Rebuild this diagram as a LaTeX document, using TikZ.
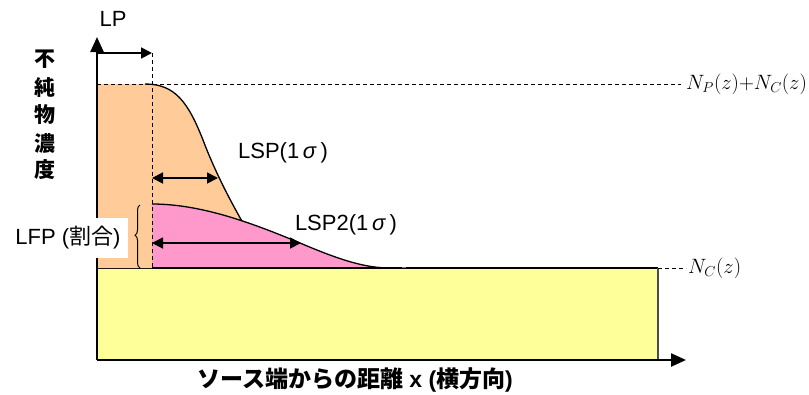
\documentclass[tikz,border=0pt]{standalone}
\usepackage{fontspec}
\setmainfont{Liberation Sans}
\newfontfamily\jp{Noto Sans CJK JP}
\usetikzlibrary{arrows.meta,decorations.pathreplacing}
\definecolor{orng}{HTML}{FFCC99}
\definecolor{pnk}{HTML}{FF99CC}
\definecolor{ylw}{HTML}{FFFF99}
\tikzset{
  axis/.style={line width=2.4pt,-{Triangle[length=15pt,width=13pt]}},
  dim/.style={line width=1.8pt,{Triangle[length=11pt,width=11pt]}-{Triangle[length=11pt,width=11pt]}},
  dimr/.style={line width=1.8pt,-{Triangle[length=11pt,width=11pt]}},
  curve/.style={line width=1.3pt},
  guide/.style={line width=1pt,dash pattern=on 4pt off 3pt},
  lbl/.style={font=\fontsize{22}{26}\selectfont, inner sep=0pt},
  jlbl/.style={font=\fontsize{21}{24}\selectfont\jp\bfseries, inner sep=0pt},
  mth/.style={font=\fontsize{19.5}{23}\selectfont, inner sep=0pt, anchor=west}
}
\begin{document}
\begin{tikzpicture}[x=1pt,y=-1pt]
\path[use as bounding box] (0,0) rectangle (809,394);
% yellow base
\fill[ylw] (97,268) rectangle (658,360);
\draw[line width=1.5pt] (97,268) -- (658,268);
\draw[line width=1.5pt,black!70] (658,268) -- (658,360);
% orange region
\fill[orng] (97,268) -- (97,84) -- (145,84) .. controls (175,84) and (188,102) .. (203,140)
   .. controls (220,185) and (245,228) .. (270,268) -- cycle;
\draw[curve] (145,84) .. controls (175,84) and (188,102) .. (203,140)
   .. controls (220,185) and (245,228) .. (270,268);
% pink region
\fill[pnk] (152,268) -- (152,204) .. controls (200,204) and (250,222) .. (300,243)
   .. controls (340,260) and (365,268) .. (390,268) -- cycle;
\draw[curve] (152,204) .. controls (200,204) and (250,222) .. (300,243)
   .. controls (340,260) and (365,268) .. (390,268);
\draw[gray,line width=1pt,dash pattern=on 4pt off 3pt] (388,267) -- (406,267);
\draw[line width=1.5pt] (152,268) -- (400,268);
% guides
\coordinate (topL) at (97,84);
\coordinate (topR) at (681,84);
\coordinate (ncL) at (658,268);
\coordinate (ncR) at (686,268);
\coordinate (vT) at (152,53);
\coordinate (vB) at (152,268);
\draw[guide] (topL) -- (topR);
\draw[guide] (ncL) -- (ncR);
\draw[guide] (vT) -- (vB);
% axes
\coordinate (O) at (97,360);
\coordinate (yT) at (97,37);
\coordinate (xR) at (686,360);
\draw[axis] (O) -- (yT);
\draw[axis] (O) -- (xR);
% LP arrow
\coordinate (lpA) at (97,53);
\draw[dimr] (lpA) -- (vT);
\node[lbl] (LP) at (113,19) {LP};
% LSP arrows
\coordinate (a1) at (152,178);
\coordinate (a2) at (218,178);
\draw[dim] (a1) -- (a2);
\coordinate (b1) at (152,243);
\coordinate (b2) at (301,243);
\draw[dim] (b1) -- (b2);
\node[lbl] (LSP) at (283,153) {LSP(1\,\textit{σ}\,)};
\node[lbl] (LSP2) at (346,225) {LSP2(1\,\textit{σ}\,)};
% LFP label
\node[fill=white, minimum width=117pt, minimum height=40pt, inner sep=0pt] (LFPbox) at (69,238) {};
\node[lbl] (LFP) at (68,238) {LFP ({\jp 割合})};
\coordinate (brB) at (140,268);
\coordinate (brT) at (140,205);
\draw[line width=1pt,decorate,decoration={brace,amplitude=5pt,aspect=0.52}] (brB) -- (brT);
% labels right
\node[mth] (npc) at (686,84) {$N_P(z){+}N_C(z)$};
\node[mth] (nc) at (688,268) {$N_C(z)$};
% vertical japanese
\node[jlbl] (c1) at (45,59) {不};
\node[jlbl] (c2) at (45,88) {純};
\node[jlbl] (c3) at (45,115) {物};
\node[jlbl] (c4) at (45,143) {濃};
\node[jlbl] (c5) at (45,170) {度};
% x label
\node[lbl, font=\fontsize{23}{26}\selectfont\bfseries] (xl) at (355,380) {{\jp ソース端からの距離} x ({\jp 横方向})};
\end{tikzpicture}
\end{document}
